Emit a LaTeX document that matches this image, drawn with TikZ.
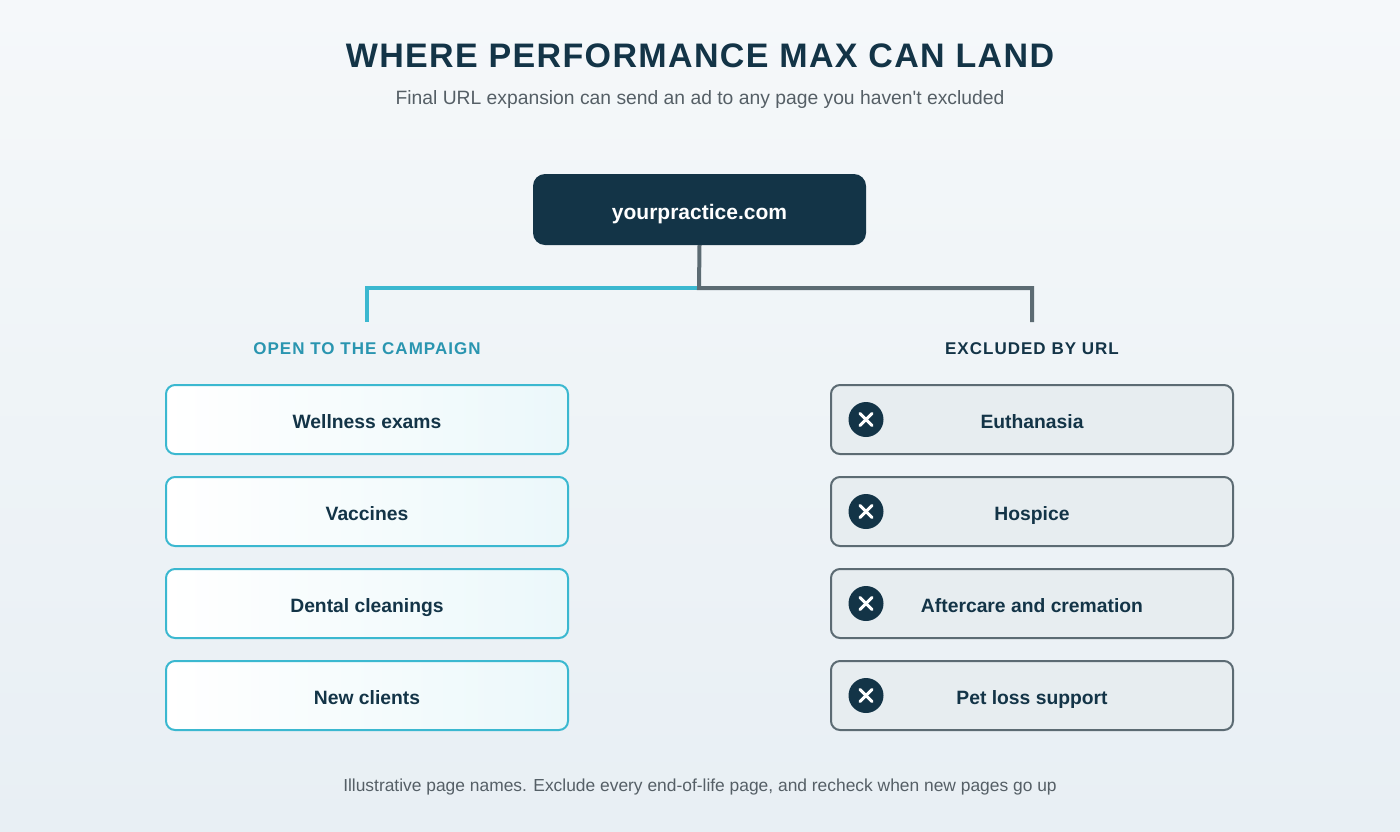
\documentclass[tikz,border=0pt]{standalone}
\usepackage{fontspec}
\setmainfont{Liberation Sans}
\begin{document}
\definecolor{dk}{HTML}{133447}
\definecolor{cy}{HTML}{3BB8D0}
\definecolor{cyt}{HTML}{2A95B0}
\definecolor{gr}{HTML}{5C6B73}
\definecolor{bgt}{HTML}{F5F8FA}
\definecolor{bgb}{HTML}{E8EFF4}
\definecolor{exf}{HTML}{E7EDF0}
\definecolor{sub}{HTML}{555F66}
\begin{tikzpicture}[x=1pt,y=-1pt,
  box/.style={line width=2pt,rounded corners=9pt,minimum width=402pt,minimum height=69pt,font=\bfseries\fontsize{19.3}{22}\selectfont,text=dk,text height=17pt,text depth=0pt},
  open/.style={box,draw=cy,left color=white,right color=cy!10},
  excl/.style={box,draw=gr,fill=exf},
  icon/.style={circle,fill=dk,minimum size=35pt,inner sep=0pt},
  hdr/.style={font=\bfseries\fontsize{17}{19}\selectfont}]
\shade[top color=bgt,bottom color=bgb] (0,0) rectangle (1400,831);
\useasboundingbox (0,0) rectangle (1400,831);
\node[text=dk,font=\bfseries\fontsize{34}{40}\selectfont] (title) at (700,56) {\addfontfeature{LetterSpace=4}WHERE PERFORMANCE MAX CAN LAND};
\node[text=sub,font=\fontsize{19.3}{22}\selectfont] (subt) at (700,100) {Final URL expansion can send an ad to any page you haven\textquotesingle t excluded};
\node[fill=dk,rounded corners=12pt,minimum width=333pt,minimum height=71pt,text=white,font=\bfseries\fontsize{21}{24}\selectfont,text height=19pt,text depth=0pt] (root) at (699.5,209.5) {yourpractice.com};
\coordinate (jn) at (699,288);
\coordinate (lt) at (367,322);
\coordinate (rt) at (1032,322);
\draw[cy,line width=4pt] (jn) -| (lt);
\draw[gr,line width=4pt] (root.south) -- (jn) -| (rt);
\node[hdr,text=cyt] (lh) at (367,349) {\addfontfeature{LetterSpace=6}OPEN TO THE CAMPAIGN};
\node[hdr,text=dk] (rh) at (1032,349) {\addfontfeature{LetterSpace=6}EXCLUDED BY URL};
\foreach \i/\y/\t in {1/419.5/Wellness exams,2/511.5/Vaccines,3/603.5/Dental cleanings,4/695.5/New clients}
  \node[open] (o\i) at (367,\y) {\t};
\foreach \i/\y/\t in {1/419.5/Euthanasia,2/511.5/Hospice,3/603.5/Aftercare and cremation,4/695.5/Pet loss support}{
  \node[excl] (e\i) at (1032,\y) {\t};
  \node[icon] (c\i) at (866,\y) {};
  \draw[white,line width=3pt,line cap=round] ([shift={(-6,-6)}]c\i.center) -- ([shift={(6,6)}]c\i.center);
  \draw[white,line width=3pt,line cap=round] ([shift={(-6,6)}]c\i.center) -- ([shift={(6,-6)}]c\i.center);
}
\node[text=sub,font=\fontsize{17.4}{20}\selectfont] (foot) at (700,787) {Illustrative page names. Exclude every end-of-life page, and recheck when new pages go up};
\end{tikzpicture}
\end{document}
